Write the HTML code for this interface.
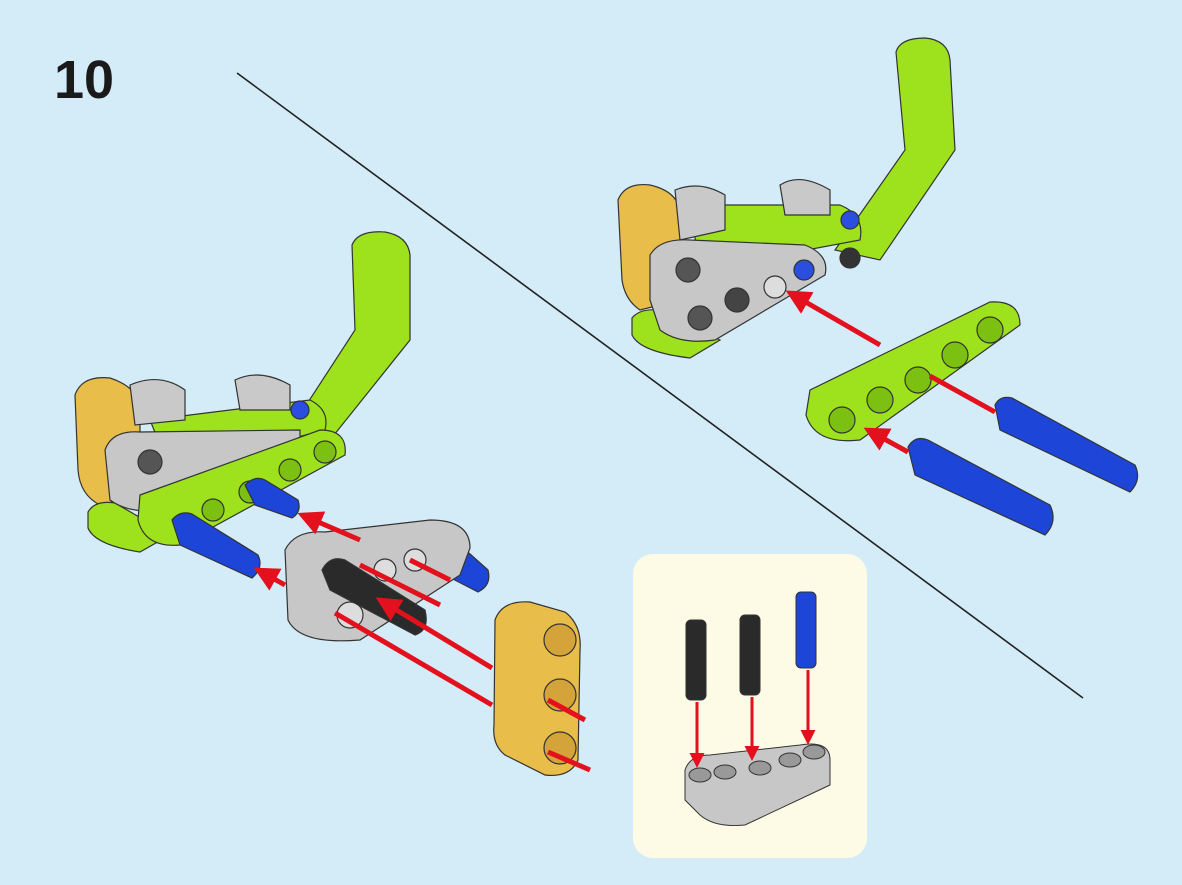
<!DOCTYPE html>
<html><head><meta charset="utf-8"><style>
html,body{margin:0;padding:0;background:#d4ecf8;}
svg{display:block}
</style></head><body>
<svg width="1182" height="885" viewBox="0 0 1182 885" xmlns="http://www.w3.org/2000/svg">
<rect x="0" y="0" width="1182" height="885" fill="#d4ecf8"/>
<text x="54" y="98" font-family="Liberation Sans, sans-serif" font-weight="bold" font-size="54" fill="#1a1a1a">10</text>
<line x1="237" y1="73" x2="1083" y2="698" stroke="#222" stroke-width="1.6"/>

<defs>
<marker id="ah" viewBox="0 0 10 10" refX="8" refY="5" markerWidth="5" markerHeight="5" orient="auto-start-reverse">
<path d="M0,0 L10,5 L0,10 z" fill="#e3101d"/></marker>
</defs>

<!-- RIGHT ASSEMBLY -->
<g stroke="#333" stroke-width="1.2">
<!-- green L arm -->
<path d="M896,52 Q900,38 925,38 Q948,40 950,60 L955,150 L880,260 L835,250 L905,150 Z" fill="#9ee21e"/>
<!-- green top beam -->
<path d="M690,205 L840,205 Q865,215 860,240 L700,270 Z" fill="#9ee21e"/>
<!-- yellow -->
<path d="M618,200 Q625,182 650,185 Q680,192 680,215 L680,300 L640,310 Q625,300 622,280 Z" fill="#e8bd4a"/>
<!-- gray small -->
<path d="M675,190 Q700,180 725,195 L725,230 L680,240 Z" fill="#c9c9c9"/>
<path d="M780,185 Q800,172 830,190 L830,215 L785,215 Z" fill="#c9c9c9"/>
<!-- green bottom -->
<path d="M632,318 Q640,308 660,310 L720,340 L690,358 Q640,352 632,335 Z" fill="#9ee21e"/>
<!-- gray front beam -->
<path d="M650,255 Q660,238 690,240 L805,245 Q830,255 825,275 L715,340 Q680,345 660,330 L650,300 Z" fill="#c7c7c7"/>
<circle cx="688" cy="270" r="12" fill="#555"/><circle cx="700" cy="318" r="12" fill="#555"/>
<circle cx="737" cy="300" r="12" fill="#444"/><circle cx="775" cy="287" r="11" fill="#ddd"/>
<circle cx="850" cy="258" r="10" fill="#333"/><circle cx="850" cy="220" r="9" fill="#2a4fe0"/>
<circle cx="804" cy="270" r="10" fill="#2a4fe0"/>
<!-- loose green beam -->
<path d="M810,390 L990,302 Q1020,300 1020,325 L860,440 Q815,445 806,415 Z" fill="#9ee21e"/>
<circle cx="842" cy="420" r="13" fill="#7cc012"/><circle cx="880" cy="400" r="13" fill="#7cc012"/>
<circle cx="918" cy="380" r="13" fill="#7cc012"/><circle cx="955" cy="355" r="13" fill="#7cc012"/>
<circle cx="990" cy="330" r="13" fill="#7cc012"/>
<!-- blue pins -->
<path d="M995,405 Q1000,395 1012,398 L1135,465 Q1142,480 1130,492 L1000,430 Z" fill="#1d46d8"/>
<path d="M908,447 Q915,435 928,440 L1050,505 Q1058,522 1045,535 L915,475 Z" fill="#1d46d8"/>
</g>
<line x1="880" y1="345" x2="790" y2="293" stroke="#e3101d" stroke-width="5" marker-end="url(#ah)"/>
<line x1="995" y1="412" x2="930" y2="376" stroke="#e3101d" stroke-width="5"/>
<line x1="908" y1="452" x2="868" y2="430" stroke="#e3101d" stroke-width="5" marker-end="url(#ah)"/>

<!-- LEFT ASSEMBLY -->
<g stroke="#333" stroke-width="1.2">
<path d="M352,245 Q358,230 385,232 Q408,236 410,255 L410,340 L330,440 L290,430 L355,330 Z" fill="#9ee21e"/>
<path d="M150,420 L310,400 Q330,410 325,430 L170,470 Z" fill="#9ee21e"/>
<path d="M75,395 Q82,375 110,378 Q140,388 140,410 L140,495 L100,505 Q80,495 78,470 Z" fill="#e8bd4a"/>
<path d="M130,385 Q160,372 185,390 L185,420 L135,425 Z" fill="#c9c9c9"/>
<path d="M235,380 Q260,368 290,385 L290,410 L240,410 Z" fill="#c9c9c9"/>
<path d="M88,512 Q95,500 115,503 L170,535 L140,552 Q95,545 88,528 Z" fill="#9ee21e"/>
<path d="M105,450 Q112,430 140,432 L300,430 L300,470 L170,510 Q130,515 110,500 Z" fill="#c7c7c7"/>
<circle cx="150" cy="462" r="12" fill="#555"/>
<path d="M140,495 L320,430 Q348,430 345,455 L180,545 Q145,548 138,520 Z" fill="#9ee21e"/>
<circle cx="213" cy="510" r="11" fill="#7cc012"/><circle cx="250" cy="492" r="11" fill="#7cc012"/>
<circle cx="290" cy="470" r="11" fill="#7cc012"/><circle cx="325" cy="452" r="11" fill="#7cc012"/>
<circle cx="300" cy="410" r="9" fill="#2a4fe0"/>
<!-- blue pins -->
<path d="M172,520 Q180,510 192,514 L258,555 Q264,568 252,578 L180,545 Z" fill="#1d46d8"/>
<path d="M245,485 Q255,475 265,480 L298,500 Q302,512 292,518 L255,505 Z" fill="#1d46d8"/>
<path d="M438,555 Q445,540 460,545 L488,570 Q492,585 478,592 L445,575 Z" fill="#1d46d8"/>
<!-- gray beam -->
<path d="M285,550 Q295,530 325,532 L430,520 Q470,520 470,548 L460,575 L360,640 Q300,645 288,620 Z" fill="#c7c7c7"/>
<circle cx="340" cy="575" r="14" fill="#555"/><circle cx="350" cy="615" r="13" fill="#ddd"/>
<circle cx="385" cy="570" r="11" fill="#ddd"/><circle cx="415" cy="560" r="11" fill="#ddd"/>
<!-- black pin -->
<path d="M322,570 Q330,555 345,560 L425,610 Q430,630 415,635 L330,590 Z" fill="#2a2a2a"/>
<!-- yellow beam -->
<path d="M495,620 Q502,600 530,602 L565,612 Q582,625 580,650 L578,760 Q570,778 545,775 L505,755 Q492,745 494,725 Z" fill="#e8bd4a"/>
<circle cx="560" cy="640" r="16" fill="#d4a43a"/><circle cx="560" cy="695" r="16" fill="#d4a43a"/>
<circle cx="560" cy="748" r="16" fill="#d4a43a"/>
</g>
<line x1="440" y1="605" x2="360" y2="565" stroke="#e3101d" stroke-width="5"/>
<line x1="450" y1="580" x2="410" y2="560" stroke="#e3101d" stroke-width="5"/>
<line x1="360" y1="540" x2="302" y2="515" stroke="#e3101d" stroke-width="5" marker-end="url(#ah)"/>
<line x1="285" y1="585" x2="258" y2="570" stroke="#e3101d" stroke-width="5" marker-end="url(#ah)"/>
<line x1="492" y1="668" x2="380" y2="600" stroke="#e3101d" stroke-width="5" marker-end="url(#ah)"/>
<line x1="335" y1="613" x2="492" y2="705" stroke="#e3101d" stroke-width="5"/>
<line x1="548" y1="700" x2="585" y2="720" stroke="#e3101d" stroke-width="5"/>
<line x1="548" y1="752" x2="590" y2="770" stroke="#e3101d" stroke-width="5"/>

<!-- INSET -->
<rect x="633" y="554" width="234" height="304" rx="20" fill="#fdfbe6"/>
<g stroke="#333" stroke-width="1">
<rect x="686" y="620" width="20" height="80" rx="5" fill="#2a2a2a"/>
<rect x="740" y="615" width="20" height="80" rx="5" fill="#2a2a2a"/>
<rect x="796" y="592" width="20" height="76" rx="5" fill="#1d46d8"/>
<path d="M685,770 Q690,755 710,755 L800,745 Q830,740 830,760 L830,785 L745,825 Q715,828 700,815 L685,800 Z" fill="#c7c7c7"/>
<ellipse cx="700" cy="775" rx="11" ry="7" fill="#999"/><ellipse cx="725" cy="772" rx="11" ry="7" fill="#999"/>
<ellipse cx="760" cy="768" rx="11" ry="7" fill="#999"/><ellipse cx="790" cy="760" rx="11" ry="7" fill="#999"/>
<ellipse cx="814" cy="752" rx="11" ry="7" fill="#999"/>
</g>
<line x1="697" y1="702" x2="697" y2="765" stroke="#e3101d" stroke-width="3" marker-end="url(#ah)"/>
<line x1="752" y1="697" x2="752" y2="758" stroke="#e3101d" stroke-width="3" marker-end="url(#ah)"/>
<line x1="808" y1="670" x2="808" y2="742" stroke="#e3101d" stroke-width="3" marker-end="url(#ah)"/>
</svg>
</body></html>
